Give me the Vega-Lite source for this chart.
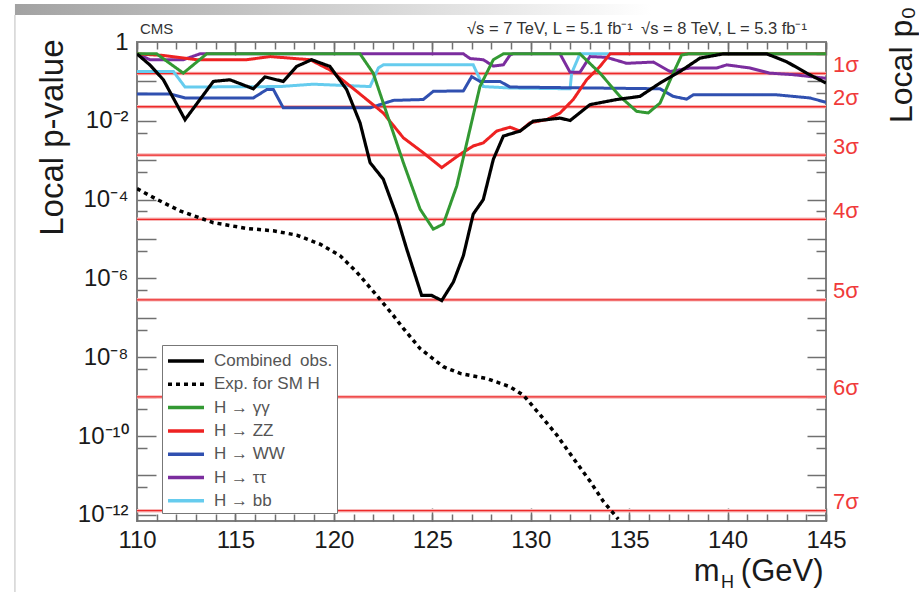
{
"$schema": "https://vega.github.io/schema/vega-lite/v6.json",
"width": 689, "height": 479,
"autosize": {"type": "none"},
"padding": {"left": 137, "top": 42, "right": 93, "bottom": 71},
"background": "white",
"config": {
  "view": {"stroke": "#808080", "strokeWidth": 2},
  "font": "Liberation Sans",
  "axis": {"domain": false, "grid": false, "tickColor": "#707070", "tickWidth": 1.5, "labelFont": "Liberation Sans", "titleFont": "Liberation Sans", "labelColor": "#1a1a1a", "titleColor": "#1a1a1a", "titleFontWeight": "normal", "labelFlush": false, "labelOverlap": false, "labelBound": false}
},
"resolve": {"axis": {"x": "independent", "y": "independent"}},
"datasets": {
  "sigma": [
    {"s": "1σ", "p": 0.158655}, {"s": "2σ", "p": 0.02275}, {"s": "3σ", "p": 0.0013499},
    {"s": "4σ", "p": 3.167e-5}, {"s": "5σ", "p": 2.867e-7}, {"s": "6σ", "p": 9.866e-10}, {"s": "7σ", "p": 1.28e-12}
  ],
  "bb": [
    {"s":"H → bb","m":110,"p":0.178},{"s":"H → bb","m":111.85,"p":0.178},{"s":"H → bb","m":112.44,"p":0.072},{"s":"H → bb","m":117.26,"p":0.074},{"s":"H → bb","m":118.95,"p":0.085},{"s":"H → bb","m":121.84,"p":0.074},{"s":"H → bb","m":122.26,"p":0.219},{"s":"H → bb","m":122.51,"p":0.263},{"s":"H → bb","m":127.08,"p":0.263},{"s":"H → bb","m":127.59,"p":0.074},{"s":"H → bb","m":128.95,"p":0.068},{"s":"H → bb","m":132.0,"p":0.065},{"s":"H → bb","m":132.08,"p":0.162},{"s":"H → bb","m":132.5,"p":0.5},{"s":"H → bb","m":145,"p":0.5}
  ],
  "tautau": [
    {"s":"H → ττ","m":110,"p":0.5},{"s":"H → ττ","m":110.66,"p":0.355},{"s":"H → ττ","m":112.35,"p":0.355},{"s":"H → ττ","m":113.2,"p":0.5},{"s":"H → ττ","m":126.58,"p":0.5},{"s":"H → ττ","m":126.92,"p":0.38},{"s":"H → ττ","m":127.59,"p":0.355},{"s":"H → ττ","m":128.1,"p":0.245},{"s":"H → ττ","m":128.61,"p":0.263},{"s":"H → ττ","m":128.95,"p":0.468},{"s":"H → ττ","m":129.1,"p":0.5},{"s":"H → ττ","m":131.49,"p":0.5},{"s":"H → ττ","m":132.0,"p":0.17},{"s":"H → ττ","m":132.5,"p":0.17},{"s":"H → ττ","m":133.01,"p":0.427},{"s":"H → ττ","m":133.86,"p":0.407},{"s":"H → ττ","m":134.87,"p":0.288},{"s":"H → ττ","m":136.23,"p":0.309},{"s":"H → ττ","m":137.08,"p":0.178},{"s":"H → ττ","m":138.09,"p":0.219},{"s":"H → ττ","m":139.45,"p":0.219},{"s":"H → ττ","m":139.96,"p":0.263},{"s":"H → ττ","m":141.14,"p":0.219},{"s":"H → ττ","m":142.16,"p":0.162},{"s":"H → ττ","m":143.34,"p":0.148},{"s":"H → ττ","m":145,"p":0.12}
  ],
  "ww": [
    {"s":"H → WW","m":110,"p":0.048},{"s":"H → WW","m":111.7,"p":0.048},{"s":"H → WW","m":112.44,"p":0.038},{"s":"H → WW","m":115.91,"p":0.038},{"s":"H → WW","m":116.59,"p":0.062},{"s":"H → WW","m":116.93,"p":0.062},{"s":"H → WW","m":117.43,"p":0.0214},{"s":"H → WW","m":121.84,"p":0.0214},{"s":"H → WW","m":123.02,"p":0.033},{"s":"H → WW","m":124.54,"p":0.0347},{"s":"H → WW","m":125.05,"p":0.056},{"s":"H → WW","m":126.58,"p":0.0575},{"s":"H → WW","m":127.0,"p":0.132},{"s":"H → WW","m":127.42,"p":0.1},{"s":"H → WW","m":128.44,"p":0.1},{"s":"H → WW","m":128.95,"p":0.072},{"s":"H → WW","m":136.57,"p":0.065},{"s":"H → WW","m":137.24,"p":0.0417},{"s":"H → WW","m":137.92,"p":0.0355},{"s":"H → WW","m":138.26,"p":0.0457},{"s":"H → WW","m":142.49,"p":0.0457},{"s":"H → WW","m":144.19,"p":0.038},{"s":"H → WW","m":145,"p":0.0295}
  ],
  "zz": [
    {"s":"H → ZZ","m":110,"p":0.5},{"s":"H → ZZ","m":111.3,"p":0.457},{"s":"H → ZZ","m":113.03,"p":0.355},{"s":"H → ZZ","m":115.57,"p":0.355},{"s":"H → ZZ","m":116.76,"p":0.427},{"s":"H → ZZ","m":118.79,"p":0.355},{"s":"H → ZZ","m":119.8,"p":0.195},{"s":"H → ZZ","m":121.16,"p":0.056},{"s":"H → ZZ","m":122.51,"p":0.0158},{"s":"H → ZZ","m":123.53,"p":0.0037},{"s":"H → ZZ","m":124.54,"p":0.00155},{"s":"H → ZZ","m":125.48,"p":0.00065},{"s":"H → ZZ","m":126.41,"p":0.00141},{"s":"H → ZZ","m":127.08,"p":0.0023},{"s":"H → ZZ","m":127.59,"p":0.00275},{"s":"H → ZZ","m":128.27,"p":0.0055},{"s":"H → ZZ","m":128.95,"p":0.0069},{"s":"H → ZZ","m":129.46,"p":0.0055},{"s":"H → ZZ","m":129.96,"p":0.0089},{"s":"H → ZZ","m":130.81,"p":0.0107},{"s":"H → ZZ","m":131.49,"p":0.0158},{"s":"H → ZZ","m":132.16,"p":0.0347},{"s":"H → ZZ","m":132.84,"p":0.11},{"s":"H → ZZ","m":133.52,"p":0.24},{"s":"H → ZZ","m":134.03,"p":0.5},{"s":"H → ZZ","m":145,"p":0.5}
  ],
  "gg": [
    {"s":"H → γγ","m":110,"p":0.5},{"s":"H → γγ","m":111.0,"p":0.5},{"s":"H → γγ","m":112.35,"p":0.162},{"s":"H → γγ","m":113.54,"p":0.5},{"s":"H → γγ","m":121.33,"p":0.5},{"s":"H → γγ","m":122.0,"p":0.162},{"s":"H → γγ","m":122.68,"p":0.0158},{"s":"H → γγ","m":123.53,"p":0.00087},{"s":"H → γγ","m":124.38,"p":5.75e-5},{"s":"H → γγ","m":125.05,"p":1.78e-5},{"s":"H → γγ","m":125.56,"p":2.4e-5},{"s":"H → γγ","m":126.24,"p":0.00022},{"s":"H → γγ","m":126.92,"p":0.0063},{"s":"H → γγ","m":127.42,"p":0.074},{"s":"H → γγ","m":128.1,"p":0.355},{"s":"H → γγ","m":128.61,"p":0.5},{"s":"H → γγ","m":132.5,"p":0.5},{"s":"H → γγ","m":133.52,"p":0.162},{"s":"H → γγ","m":134.53,"p":0.0417},{"s":"H → γγ","m":135.38,"p":0.0174},{"s":"H → γγ","m":135.97,"p":0.0158},{"s":"H → γγ","m":136.57,"p":0.0282},{"s":"H → γγ","m":137.24,"p":0.162},{"s":"H → γγ","m":137.67,"p":0.468},{"s":"H → γγ","m":138.0,"p":0.5},{"s":"H → γγ","m":145,"p":0.5}
  ],
  "exp": [
    {"s":"Exp. for SM H","m":110,"p":1.9e-4},{"s":"Exp. for SM H","m":111.0,"p":1.02e-4},{"s":"Exp. for SM H","m":112.18,"p":5.2e-5},{"s":"Exp. for SM H","m":113.88,"p":2.6e-5},{"s":"Exp. for SM H","m":115.57,"p":1.86e-5},{"s":"Exp. for SM H","m":116.92,"p":1.62e-5},{"s":"Exp. for SM H","m":118.11,"p":1.26e-5},{"s":"Exp. for SM H","m":119.3,"p":7.4e-6},{"s":"Exp. for SM H","m":120.31,"p":3.8e-6},{"s":"Exp. for SM H","m":121.16,"p":1.45e-6},{"s":"Exp. for SM H","m":122.18,"p":3.7e-7},{"s":"Exp. for SM H","m":123.02,"p":1.15e-7},{"s":"Exp. for SM H","m":123.53,"p":5.4e-8},{"s":"Exp. for SM H","m":124.38,"p":1.66e-8},{"s":"Exp. for SM H","m":125.56,"p":5.75e-9},{"s":"Exp. for SM H","m":126.41,"p":3.9e-9},{"s":"Exp. for SM H","m":127.76,"p":2.9e-9},{"s":"Exp. for SM H","m":128.95,"p":1.78e-9},{"s":"Exp. for SM H","m":129.62,"p":1.1e-9},{"s":"Exp. for SM H","m":130.47,"p":3.5e-10},{"s":"Exp. for SM H","m":131.32,"p":1.07e-10},{"s":"Exp. for SM H","m":132.16,"p":2.75e-11},{"s":"Exp. for SM H","m":133.01,"p":7.2e-12},{"s":"Exp. for SM H","m":133.69,"p":2.2e-12},{"s":"Exp. for SM H","m":134.45,"p":7.8e-13}
  ],
  "comb": [
    {"s":"Combined\u2002obs.","m":110,"p":0.5},{"s":"Combined\u2002obs.","m":110.66,"p":0.26},{"s":"Combined\u2002obs.","m":111.34,"p":0.11},{"s":"Combined\u2002obs.","m":112.44,"p":0.0107},{"s":"Combined\u2002obs.","m":113.88,"p":0.1},{"s":"Combined\u2002obs.","m":114.72,"p":0.11},{"s":"Combined\u2002obs.","m":115.91,"p":0.065},{"s":"Combined\u2002obs.","m":116.5,"p":0.13},{"s":"Combined\u2002obs.","m":117.43,"p":0.1},{"s":"Combined\u2002obs.","m":118.11,"p":0.24},{"s":"Combined\u2002obs.","m":118.87,"p":0.355},{"s":"Combined\u2002obs.","m":119.8,"p":0.24},{"s":"Combined\u2002obs.","m":120.65,"p":0.062},{"s":"Combined\u2002obs.","m":121.33,"p":0.0089},{"s":"Combined\u2002obs.","m":121.84,"p":0.00087},{"s":"Combined\u2002obs.","m":122.51,"p":0.00033},{"s":"Combined\u2002obs.","m":123.19,"p":3.9e-5},{"s":"Combined\u2002obs.","m":123.7,"p":5.6e-6},{"s":"Combined\u2002obs.","m":124.46,"p":3.7e-7},{"s":"Combined\u2002obs.","m":124.97,"p":3.7e-7},{"s":"Combined\u2002obs.","m":125.48,"p":2.75e-7},{"s":"Combined\u2002obs.","m":126.07,"p":8.1e-7},{"s":"Combined\u2002obs.","m":126.58,"p":3.8e-6},{"s":"Combined\u2002obs.","m":127.08,"p":4.3e-5},{"s":"Combined\u2002obs.","m":127.59,"p":1.0e-4},{"s":"Combined\u2002obs.","m":128.1,"p":0.00105},{"s":"Combined\u2002obs.","m":128.61,"p":0.0041},{"s":"Combined\u2002obs.","m":129.46,"p":0.0055},{"s":"Combined\u2002obs.","m":130.13,"p":0.0098},{"s":"Combined\u2002obs.","m":131.49,"p":0.0117},{"s":"Combined\u2002obs.","m":132.0,"p":0.0102},{"s":"Combined\u2002obs.","m":133.01,"p":0.0257},{"s":"Combined\u2002obs.","m":134.37,"p":0.0347},{"s":"Combined\u2002obs.","m":135.55,"p":0.0417},{"s":"Combined\u2002obs.","m":136.57,"p":0.091},{"s":"Combined\u2002obs.","m":137.58,"p":0.178},{"s":"Combined\u2002obs.","m":138.6,"p":0.39},{"s":"Combined\u2002obs.","m":139.78,"p":0.5},{"s":"Combined\u2002obs.","m":141.99,"p":0.5},{"s":"Combined\u2002obs.","m":143.0,"p":0.316},{"s":"Combined\u2002obs.","m":144.02,"p":0.162},{"s":"Combined\u2002obs.","m":145,"p":0.091}
  ]
},
"layer": [
  {
    "data": {"values": [{}]},
    "mark": {"type": "rect", "fill": {"gradient": "linear", "x1": 0, "y1": 0, "x2": 1, "y2": 0, "stops": [{"offset": 0, "color": "#a2a2a2"}, {"offset": 0.7, "color": "#ffffff"}]}},
    "encoding": {
      "x": {"datum": 103.8, "type": "quantitative", "axis": null},
      "x2": {"datum": 150},
      "y": {"datum": 9.2, "type": "quantitative", "axis": null},
      "y2": {"datum": 4.85}
    }
  },
  {
    "data": {"values": [{}]},
    "mark": {"type": "rule", "stroke": "#bdbdbd", "strokeWidth": 1},
    "encoding": {
      "x": {"datum": 103.8, "type": "quantitative", "axis": null},
      "y": {"datum": 4.85, "type": "quantitative", "axis": null},
      "y2": {"datum": 1e-14}
    }
  },
  {
    "data": {"name": "sigma"},
    "mark": {"type": "rule", "stroke": "#f7b8b8", "strokeWidth": 3.5},
    "encoding": {"y": {"field": "p", "type": "quantitative", "axis": null}}
  },
  {
    "data": {"name": "sigma"},
    "mark": {"type": "rule", "stroke": "#ee2a2a", "strokeWidth": 1.3},
    "encoding": {"y": {"field": "p", "type": "quantitative", "axis": null}}
  },
  {
    "data": {"name": "sigma"},
    "mark": {"type": "text", "align": "left", "baseline": "middle", "dx": 7, "dy": -8.5, "fontSize": 22, "color": "#f03a3a", "font": "Liberation Sans"},
    "encoding": {
      "x": {"datum": 145, "type": "quantitative", "axis": null},
      "y": {"field": "p", "type": "quantitative", "axis": null},
      "text": {"field": "s"}
    }
  },
  {
    "data": {"name": "bb"},
    "mark": {"type": "line", "strokeWidth": 3, "clip": true},
    "encoding": {
      "x": {"field": "m", "type": "quantitative", "scale": {"domain": [110, 145], "nice": false, "zero": false},
        "axis": {"orient": "bottom", "values": [110, 115, 120, 125, 130, 135, 140, 145], "ticks": false, "labelFontSize": 24, "labelPadding": 7, "title": "(GeV)", "titleFontSize": 31, "titleAnchor": "end", "titleAlign": "right", "titleX": 686, "titleY": 59, "titleBaseline": "alphabetic"}},
      "y": {"field": "p", "type": "quantitative", "scale": {"type": "log", "domain": [7e-13, 1], "nice": false},
        "axis": {"orient": "left", "values": [1, 0.01, 1e-4, 1e-6, 1e-8, 1e-10, 1e-12], "ticks": false, "labelFontSize": 24, "labelPadding": 9,
          "labelExpr": "datum.value > 0.5 ? '1' : datum.value > 1e-3 ? '10⁻²' : datum.value > 1e-5 ? '10⁻⁴' : datum.value > 1e-7 ? '10⁻⁶' : datum.value > 1e-9 ? '10⁻⁸' : datum.value > 1e-11 ? '10⁻¹⁰' : '10⁻¹²'",
          "title": "Local p-value", "titleFontSize": 33, "titleAngle": 270, "titleAnchor": "end", "titleAlign": "right", "titleBaseline": "alphabetic", "titleX": -75, "titleY": -3}},
      "color": {"field": "s", "type": "nominal",
        "scale": {"domain": ["Combined\u2002obs.", "Exp. for SM H", "H → γγ", "H → ZZ", "H → WW", "H → ττ", "H → bb"], "range": ["#000000", "#000000", "#339933", "#ee2222", "#3050b0", "#7b2d9e", "#66ccee"]},
        "legend": {"orient": "none", "legendX": 25, "legendY": 303, "title": null, "symbolType": "M-1,0H2.6", "symbolSize": 400, "symbolStrokeWidth": 3.5, "labelFontSize": 17, "labelColor": "#555555", "labelFont": "Liberation Sans", "padding": 4, "rowPadding": 3.3, "strokeColor": "#777777", "fillColor": "#ffffff", "labelOffset": 24, "labelLimit": 300}},
      "strokeDash": {"field": "s", "type": "nominal",
        "scale": {"domain": ["Combined\u2002obs.", "Exp. for SM H", "H → γγ", "H → ZZ", "H → WW", "H → ττ", "H → bb"], "range": [[1, 0], [4, 4], [1, 0], [1, 0], [1, 0], [1, 0], [1, 0]]}}
    }
  },
  {
    "data": {"name": "tautau"},
    "mark": {"type": "line", "strokeWidth": 3, "clip": true},
    "encoding": {
      "x": {"field": "m", "type": "quantitative", "axis": {"orient": "top", "offset": -479, "values": [110,111,112,113,114,115,116,117,118,119,120,121,122,123,124,125,126,127,128,129,130,131,132,133,134,135,136,137,138,139,140,141,142,143,144,145], "tickSize": 7, "labels": false, "title": null}},
      "y": {"field": "p", "type": "quantitative", "axis": {"orient": "right", "offset": -689, "values": [0.1, 0.01, 1e-3, 1e-4, 1e-5, 1e-6, 1e-7, 1e-8, 1e-9, 1e-10, 1e-11, 1e-12], "tickSize": 19, "labels": false, "title": null}},
      "color": {"field": "s", "type": "nominal"},
      "strokeDash": {"field": "s", "type": "nominal"}
    }
  },
  {
    "data": {"name": "ww"},
    "mark": {"type": "line", "strokeWidth": 3, "clip": true},
    "encoding": {
      "x": {"field": "m", "type": "quantitative", "axis": {"orient": "top", "offset": -479, "values": [110, 115, 120, 125, 130, 135, 140, 145], "tickSize": 13, "labels": false, "title": null}},
      "y": {"field": "p", "type": "quantitative", "axis": {"orient": "right", "offset": -689, "values": [0.5, 0.05, 5e-3, 5e-4, 5e-5, 5e-6, 5e-7, 5e-8, 5e-9, 5e-10, 5e-11, 5e-12], "tickSize": 10, "labels": false, "title": null}},
      "color": {"field": "s", "type": "nominal"},
      "strokeDash": {"field": "s", "type": "nominal"}
    }
  },
  {
    "data": {"name": "zz"},
    "mark": {"type": "line", "strokeWidth": 3, "clip": true},
    "encoding": {
      "x": {"field": "m", "type": "quantitative", "axis": {"orient": "bottom", "offset": -479, "values": [110,111,112,113,114,115,116,117,118,119,120,121,122,123,124,125,126,127,128,129,130,131,132,133,134,135,136,137,138,139,140,141,142,143,144,145], "tickSize": 7, "labels": false, "title": null}},
      "y": {"field": "p", "type": "quantitative", "axis": {"orient": "left", "offset": -689, "values": [0.1, 0.01, 1e-3, 1e-4, 1e-5, 1e-6, 1e-7, 1e-8, 1e-9, 1e-10, 1e-11, 1e-12], "tickSize": 19, "labels": false, "title": null}},
      "color": {"field": "s", "type": "nominal"},
      "strokeDash": {"field": "s", "type": "nominal"}
    }
  },
  {
    "data": {"name": "gg"},
    "mark": {"type": "line", "strokeWidth": 3, "clip": true},
    "encoding": {
      "x": {"field": "m", "type": "quantitative", "axis": {"orient": "bottom", "offset": -479, "values": [110, 115, 120, 125, 130, 135, 140, 145], "tickSize": 13, "labels": false, "title": null}},
      "y": {"field": "p", "type": "quantitative", "axis": {"orient": "left", "offset": -689, "values": [0.5, 0.05, 5e-3, 5e-4, 5e-5, 5e-6, 5e-7, 5e-8, 5e-9, 5e-10, 5e-11, 5e-12], "tickSize": 10, "labels": false, "title": null}},
      "color": {"field": "s", "type": "nominal"},
      "strokeDash": {"field": "s", "type": "nominal"}
    }
  },
  {
    "data": {"name": "exp"},
    "mark": {"type": "line", "strokeWidth": 3.5, "clip": true},
    "encoding": {
      "x": {"field": "m", "type": "quantitative", "axis": null},
      "y": {"field": "p", "type": "quantitative", "axis": null},
      "color": {"field": "s", "type": "nominal"},
      "strokeDash": {"field": "s", "type": "nominal"}
    }
  },
  {
    "data": {"name": "comb"},
    "mark": {"type": "line", "strokeWidth": 3.2, "clip": true},
    "encoding": {
      "x": {"field": "m", "type": "quantitative", "axis": null},
      "y": {"field": "p", "type": "quantitative", "axis": null},
      "color": {"field": "s", "type": "nominal"},
      "strokeDash": {"field": "s", "type": "nominal"}
    }
  },
  {
    "data": {"values": [{"t": "CMS"}]},
    "mark": {"type": "text", "align": "left", "baseline": "alphabetic", "dy": -8, "fontSize": 15, "color": "#333333", "font": "Liberation Sans"},
    "encoding": {
      "x": {"datum": 110.15, "type": "quantitative", "axis": null},
      "y": {"datum": 1, "type": "quantitative", "axis": null},
      "text": {"field": "t"}
    }
  },
  {
    "data": {"values": [{"t": "√s = 7 TeV, L = 5.1 fb⁻¹\u2002√s = 8 TeV, L = 5.3 fb⁻¹"}]},
    "mark": {"type": "text", "align": "right", "baseline": "alphabetic", "dy": -8, "fontSize": 16.5, "color": "#333333", "font": "Liberation Sans"},
    "encoding": {
      "x": {"datum": 144.03, "type": "quantitative", "axis": null},
      "y": {"datum": 1, "type": "quantitative", "axis": null},
      "text": {"field": "t"}
    }
  },
  {
    "data": {"values": [{"t": "m"}]},
    "mark": {"type": "text", "align": "right", "baseline": "alphabetic", "dy": 60, "fontSize": 31, "color": "#1a1a1a", "font": "Liberation Sans"},
    "encoding": {
      "x": {"datum": 139.6, "type": "quantitative", "axis": null},
      "y": {"datum": 7e-13, "type": "quantitative", "axis": null},
      "text": {"field": "t"}
    }
  },
  {
    "data": {"values": [{"t": "H"}]},
    "mark": {"type": "text", "align": "left", "baseline": "alphabetic", "dy": 67, "fontSize": 18, "color": "#1a1a1a", "font": "Liberation Sans"},
    "encoding": {
      "x": {"datum": 139.66, "type": "quantitative", "axis": null},
      "y": {"datum": 7e-13, "type": "quantitative", "axis": null},
      "text": {"field": "t"}
    }
  },
  {
    "data": {"values": [{"t": "Local p₀"}]},
    "mark": {"type": "text", "align": "left", "baseline": "alphabetic", "angle": 270, "fontSize": 32, "color": "#1a1a1a", "font": "Liberation Sans"},
    "encoding": {
      "x": {"datum": 149.37, "type": "quantitative", "axis": null},
      "y": {"datum": 0.0088, "type": "quantitative", "axis": null},
      "text": {"field": "t"}
    }
  }
]
}
